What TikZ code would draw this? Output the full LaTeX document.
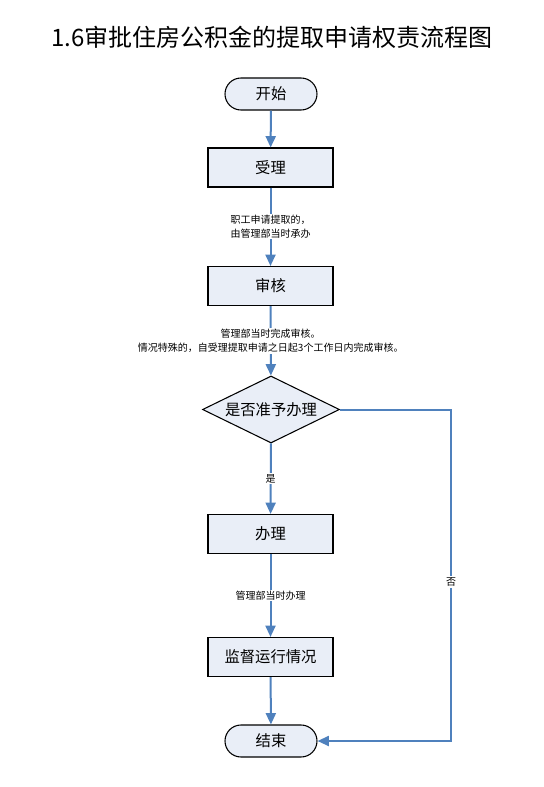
\documentclass[tikz,border=0pt]{standalone}
\usepackage{fontspec}
\newfontfamily\cjk{Noto Sans CJK SC}
\usetikzlibrary{shapes.geometric, arrows.meta}
\definecolor{flowblue}{HTML}{4F81BD}
\definecolor{boxfill}{HTML}{E9EEF7}

\begin{document}
\begin{tikzpicture}[x=0.75pt, y=-0.75pt, font=\cjk,
        terminal/.style={draw, line width=0.8pt, fill=boxfill, rounded corners=12pt, minimum width=69pt, minimum height=24pt, font=\cjk\fontsize{11.5}{13}\selectfont},
        process/.style={draw, line width=0.8pt, fill=boxfill, minimum width=93.75pt, minimum height=29.25pt, font=\cjk\fontsize{11.5}{13}\selectfont},
        decision/.style={draw, diamond, aspect=2.05, line width=0.8pt, fill=boxfill, inner sep=0pt, minimum width=102.75pt, minimum height=50.25pt, font=\cjk\fontsize{11.5}{13}\selectfont},
        flow/.style={draw=flowblue, line width=1.5pt, -{Triangle[length=8.5pt, width=7.5pt]}},
        note/.style={fill=white, inner sep=1pt, align=center, font=\cjk\fontsize{7.5}{10}\selectfont}]
        % Frame and title:
        \useasboundingbox (0, 0) rectangle (543, 787);
        \node[font=\cjk\fontsize{18}{20}\selectfont](T1) at (272, 37){1.6审批住房公积金的提取申请权责流程图};
        % Boxes:
        \node[terminal](N1) at (271, 94){开始};
        \node[process](N2) at (270.5, 167.5){受理};
        \node[process](N3) at (270.5, 286){审核};
        \node[decision](N4) at (271, 409.5){是否准予办理};
        \node[process](N5) at (270.5, 534){办理};
        \node[process](N6) at (270.5, 657){监督运行情况};
        \node[terminal](N7) at (271, 741){结束};
        \coordinate (C1) at (451, 409.5);
        % Connectors:
        \draw[flow] (N1) -- (N2);
        \draw[flow] (N2) -- (N3) node[note, midway]{职工申请提取的，\\由管理部当时承办};
        \draw[flow] (N3) -- (N4) node[note, midway]{管理部当时完成审核。\\情况特殊的，自受理提取申请之日起3个工作日内完成审核。};
        \draw[flow] (N4) -- (N5) node[note, midway]{是};
        \draw[flow] (N5) -- (N6) node[note, midway]{管理部当时办理};
        \draw[flow] (N6) -- (N7);
        \draw[flow] (N4.east) -- (C1) |- (N7.east) node[note, pos=0.26]{否};
    \end{tikzpicture}
\end{document}
